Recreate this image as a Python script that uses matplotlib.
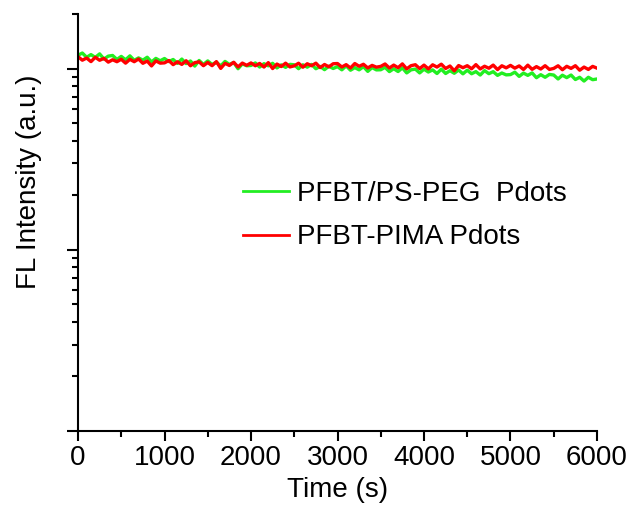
import numpy as np
import matplotlib
matplotlib.use("Agg")
import matplotlib.pyplot as plt
from matplotlib.ticker import LogLocator, NullFormatter, MultipleLocator

plt.rcParams['font.family'] = ['Liberation Sans', 'DejaVu Sans']

time_s = np.arange(0, 6001, 50)

pfbt_ps_peg = [
    1.184, 1.218, 1.154, 1.194, 1.152, 1.205, 1.128, 1.171, 1.181, 1.123,
    1.167, 1.118, 1.175, 1.110, 1.145, 1.112, 1.155, 1.087, 1.138, 1.104,
    1.136, 1.093, 1.122, 1.068, 1.128, 1.065, 1.101, 1.032, 1.108, 1.053,
    1.102, 1.053, 1.083, 1.035, 1.095, 1.053, 1.080, 0.998, 1.061, 1.036,
    1.040, 1.074, 1.019, 1.064, 1.035, 1.069, 1.008, 1.048, 1.015, 1.055,
    1.049, 0.998, 1.049, 1.018, 1.054, 0.998, 1.027, 0.986, 1.030, 1.001,
    1.025, 0.984, 1.035, 0.979, 1.012, 0.984, 1.024, 0.965, 1.012, 0.983,
    0.985, 1.015, 0.962, 0.998, 0.963, 1.009, 0.946, 0.984, 0.993, 0.946,
    0.992, 0.957, 0.983, 0.939, 0.992, 0.939, 0.973, 0.942, 0.982, 0.935,
    0.979, 0.936, 0.962, 0.921, 0.974, 0.937, 0.961, 0.917, 0.945, 0.923,
    0.926, 0.955, 0.905, 0.944, 0.917, 0.946, 0.890, 0.925, 0.895, 0.928,
    0.921, 0.876, 0.919, 0.891, 0.921, 0.870, 0.895, 0.853, 0.895, 0.868,
    0.876,
]

pfbt_pima = [
    1.163, 1.112, 1.143, 1.092, 1.154, 1.111, 1.138, 1.085, 1.118, 1.091,
    1.125, 1.071, 1.124, 1.091, 1.129, 1.069, 1.100, 1.034, 1.102, 1.071,
    1.075, 1.107, 1.051, 1.090, 1.054, 1.104, 1.036, 1.078, 1.089, 1.037,
    1.080, 1.037, 1.092, 1.002, 1.069, 1.040, 1.083, 1.021, 1.072, 1.042,
    1.074, 1.036, 1.067, 1.019, 1.078, 1.000, 1.059, 1.026, 1.071, 1.021,
    1.035, 1.070, 1.017, 1.063, 1.036, 1.071, 1.012, 1.053, 1.022, 1.063,
    1.066, 1.020, 1.051, 1.007, 1.066, 1.029, 1.056, 1.008, 1.041, 1.018,
    1.028, 1.060, 1.007, 1.045, 1.011, 1.061, 0.996, 1.037, 1.050, 1.000,
    1.045, 0.996, 1.049, 1.019, 1.057, 1.001, 1.033, 0.972, 1.039, 1.011,
    1.037, 0.997, 1.051, 0.995, 1.030, 1.004, 1.045, 0.987, 1.036, 1.009,
    1.041, 1.005, 1.034, 0.988, 1.044, 0.990, 1.025, 0.994, 1.037, 0.989,
    1.002, 1.036, 0.985, 1.029, 1.002, 1.037, 0.979, 1.019, 0.989, 1.028,
    1.005,
]

series_labels = ["PFBT/PS-PEG  Pdots", "PFBT-PIMA Pdots"]
x_ticks = [0, 1000, 2000, 3000, 4000, 5000, 6000]

W, H = 639, 512
FS = 20
L, R, T, B = 78, 597, 14, 431
fig = plt.figure(figsize=(W / 100, H / 100), dpi=100)
ax = fig.add_axes([L / W, 1 - B / H, (R - L) / W, (B - T) / H])

ax.plot(time_s, pfbt_ps_peg, color='#22ee22', lw=2.4, label=series_labels[0])
ax.plot(time_s, pfbt_pima, color='#ff0000', lw=2.4, label=series_labels[1])

ax.set_yscale('log')
ax.set_ylim(0.01, 2.0)
ax.set_xlim(0, 6000)
ax.set_xticks(x_ticks)
ax.xaxis.set_minor_locator(MultipleLocator(500))
ax.yaxis.set_major_locator(LogLocator(base=10, numticks=10))
ax.yaxis.set_minor_locator(LogLocator(base=10, subs=np.arange(2, 10), numticks=20))
ax.yaxis.set_major_formatter(NullFormatter())
ax.yaxis.set_minor_formatter(NullFormatter())

for s in ['top', 'right']:
    ax.spines[s].set_visible(False)
for s in ['left', 'bottom']:
    ax.spines[s].set_linewidth(1.5)

ax.tick_params(axis='both', which='major', direction='out', length=7, width=1.5,
               labelsize=FS, pad=3)
ax.tick_params(axis='both', which='minor', direction='out', length=4.5, width=1.5)
ax.tick_params(axis='y', which='major', length=8)

fig.text((L + R) / 2 / W, 1 - 490 / H, "Time (s)", ha='center', va='center', fontsize=FS)
fig.text(29 / W, 1 - 182 / H, "FL Intensity (a.u.)", ha='center', va='center',
         rotation=90, fontsize=FS)

leg = ax.legend(loc='upper left', bbox_to_anchor=(243 / W, 1 - 181 / H),
                bbox_transform=fig.transFigure, frameon=False, fontsize=FS,
                handlelength=1.65, handletextpad=0.3, labelspacing=0.62,
                borderpad=0, borderaxespad=0)
for h in leg.get_lines():
    h.set_linewidth(2.0)

fig.savefig("out.png", dpi=100)
